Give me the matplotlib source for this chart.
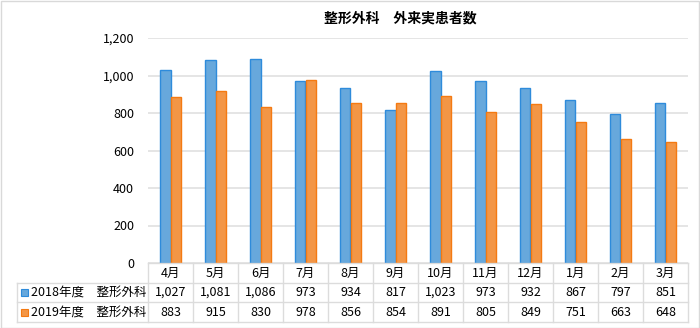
import matplotlib
matplotlib.use("Agg")
import matplotlib.pyplot as plt
import numpy as np
from matplotlib.transforms import blended_transform_factory
from matplotlib.patches import Rectangle
from matplotlib.lines import Line2D

plt.rcParams['font.family'] = ['Noto Sans CJK JP', 'DejaVu Sans']

months = ["4月", "5月", "6月", "7月", "8月", "9月", "10月", "11月", "12月", "1月", "2月", "3月"]
series_names = ["2018年度\u3000整形外科", "2019年度\u3000整形外科"]
v2018 = [1027, 1081, 1086, 973, 934, 817, 1023, 973, 932, 867, 797, 851]
v2019 = [883, 915, 830, 978, 856, 854, 891, 805, 849, 751, 663, 648]
yticks = [0, 200, 400, 600, 800, 1000, 1200]
title = "整形外科\u3000外来実患者数"

fills = ["#67A8DC", "#F39646"]
edges = ["#2E8BDB", "#F47A12"]

W, H = 700, 328
fig = plt.figure(figsize=(W / 100, H / 100), dpi=100)

def fx(px):
    return px / W

def fy(py):
    return 1 - py / H

ax_left, ax_right, ax_top, ax_bot = 148, 688, 38, 263
ax = fig.add_axes([fx(ax_left), fy(ax_bot), fx(ax_right - ax_left), (ax_bot - ax_top) / H])

x = np.arange(len(months))
bw = 0.235
ax.bar(x - bw / 2, v2018, bw, color=fills[0], edgecolor=edges[0], linewidth=1.0, zorder=3)
ax.bar(x + bw / 2, v2019, bw, color=fills[1], edgecolor=edges[1], linewidth=1.0, zorder=3)

ax.set_xlim(-0.5, len(months) - 0.5)
ax.set_ylim(0, 1200)
ax.set_yticks(yticks)
ax.set_yticklabels([f"{v:,}" for v in yticks], fontsize=9)
ax.tick_params(axis='y', length=0, pad=10)
ax.set_xticks([])
ax.grid(axis='y', color='#E3E3E3', linewidth=1.3, zorder=0)
for s in ax.spines.values():
    s.set_visible(False)

fig.text(fx(400), fy(19), title, ha='center', va='center', fontsize=10, fontweight='bold')

# data table
line_c = '#DCDCDC'
tr = blended_transform_factory(ax.transData, fig.transFigure)
rows_y = [263, 283, 302, 322]
tab_left = 17

def hline(x0, x1, y):
    fig.add_artist(Line2D([fx(x0), fx(x1)], [fy(y), fy(y)], color=line_c, lw=1.0, transform=fig.transFigure))

def vline(xp, y0, y1):
    fig.add_artist(Line2D([fx(xp), fx(xp)], [fy(y0), fy(y1)], color=line_c, lw=1.0, transform=fig.transFigure))

hline(ax_left, ax_right, rows_y[0])
for y in rows_y[1:]:
    hline(tab_left, ax_right, y)
vline(tab_left, rows_y[1], rows_y[3])
colw = (ax_right - ax_left) / len(months)
for i in range(len(months) + 1):
    vline(ax_left + i * colw, rows_y[0], rows_y[3])

def cy(r):
    return fy((rows_y[r] + rows_y[r + 1]) / 2)

for i, m in enumerate(months):
    fig.text(i, cy(0), m, transform=tr, ha='center', va='center', fontsize=9)
    fig.text(i, cy(1), f"{v2018[i]:,}", transform=tr, ha='center', va='center', fontsize=9)
    fig.text(i, cy(2), f"{v2019[i]:,}", transform=tr, ha='center', va='center', fontsize=9)

for r, (name, fc, ec) in enumerate(zip(series_names, fills, edges)):
    yc = (rows_y[r + 1] + rows_y[r + 2]) / 2
    sq = 7
    fig.add_artist(Rectangle((fx(21), fy(yc + sq / 2)), sq / W, sq / H, facecolor=fc, edgecolor=ec,
                             lw=0.8, transform=fig.transFigure))
    fig.text(fx(31), fy(yc), name, ha='left', va='center', fontsize=9)

# outer border
fig.add_artist(Rectangle((0.5 / W, 0.5 / H), 1 - 1.5 / W, 1 - 1.5 / H, facecolor='none',
                         edgecolor='#D9D9D9', lw=1.0, transform=fig.transFigure))

fig.savefig("out.png", dpi=100)
